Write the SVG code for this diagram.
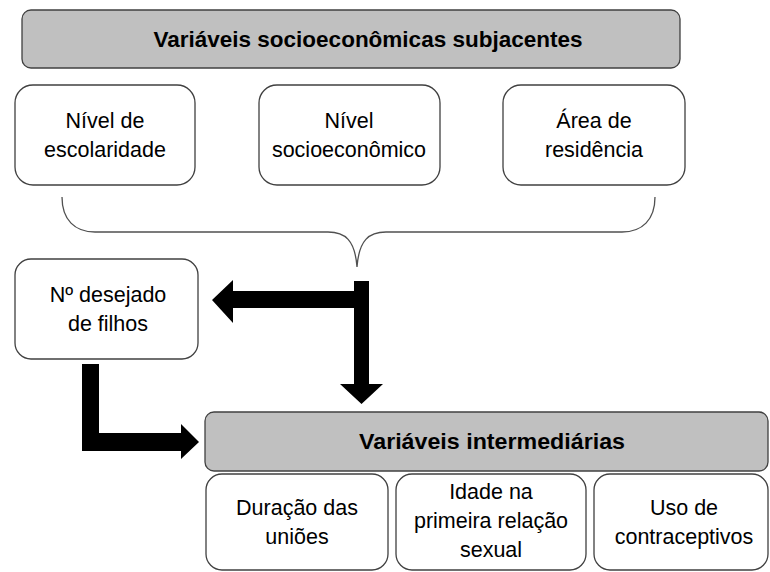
<svg xmlns="http://www.w3.org/2000/svg" width="770" height="572" viewBox="0 0 770 572">
<style>
.hdr{fill:#c0c0c0;stroke:#404040;stroke-width:1.3}
.box{fill:#ffffff;stroke:#404040;stroke-width:1.3}
.t{font-family:"Liberation Sans",Arial,sans-serif;font-size:21.5px;fill:#000;text-anchor:middle}
.b{font-weight:bold;font-size:22.5px}
.arr{fill:#000;stroke:none}
.brace{fill:none;stroke:#505050;stroke-width:1.3}
</style>
<rect width="770" height="572" fill="#fff"/>
<g id="socio">
<rect class="hdr" x="22" y="10" width="658" height="58" rx="9"/>
<text class="t b" x="368" y="47">Variáveis socioeconômicas subjacentes</text>
</g>
<g id="escolaridade">
<rect class="box" x="15" y="85" width="180" height="100" rx="18"/>
<text class="t" x="105" y="128">Nível de</text>
<text class="t" x="105" y="157">escolaridade</text>
</g>
<g id="nivel">
<rect class="box" x="259" y="85" width="181" height="100" rx="18"/>
<text class="t" x="349" y="128">Nível</text>
<text class="t" x="349" y="157">socioeconômico</text>
</g>
<g id="area">
<rect class="box" x="503" y="85" width="182" height="100" rx="18"/>
<text class="t" x="594" y="128">Área de</text>
<text class="t" x="594" y="157">residência</text>
</g>
<g id="desejado">
<rect class="box" x="15" y="259" width="183" height="100" rx="16"/>
<text class="t" x="108" y="302">Nº desejado</text>
<text class="t" x="108" y="331">de filhos</text>
</g>
<g id="intermed">
<rect class="hdr" x="205" y="412" width="563" height="59" rx="9"/>
<text class="t b" x="492" y="449" textLength="266" lengthAdjust="spacingAndGlyphs">Variáveis intermediárias</text>
</g>
<g id="duracao">
<rect class="box" x="206" y="474" width="182" height="96" rx="16"/>
<text class="t" x="297" y="515">Duração das</text>
<text class="t" x="297" y="544">uniões</text>
</g>
<g id="idade">
<rect class="box" x="396" y="474" width="190" height="96" rx="16"/>
<text class="t" x="491" y="499">Idade na</text>
<text class="t" x="491" y="528">primeira relação</text>
<text class="t" x="491" y="557">sexual</text>
</g>
<g id="uso">
<rect class="box" x="594" y="474" width="174" height="96" rx="16"/>
<text class="t" x="684" y="515">Uso de</text>
<text class="t" x="684" y="544">contraceptivos</text>
</g>
<g id="connectors">
<path class="brace" d="M62,197 C62,220 75,232 95,232 L328,232 C345,232 355,240 357,267 C359,240 369,232 386,232 L622,232 C642,232 655,220 655,197"/>
<polygon class="arr" points="354,281 369,281 369,384 383,384 361.5,404 340,384 354,384 354,308 233,308 233,323 212,300 233,280 233,291 354,291"/>
<polygon class="arr" points="82,364 99,364 99,433 181,433 181,424 199,442 181,459 181,451 82,451"/>
</g>
</svg>
